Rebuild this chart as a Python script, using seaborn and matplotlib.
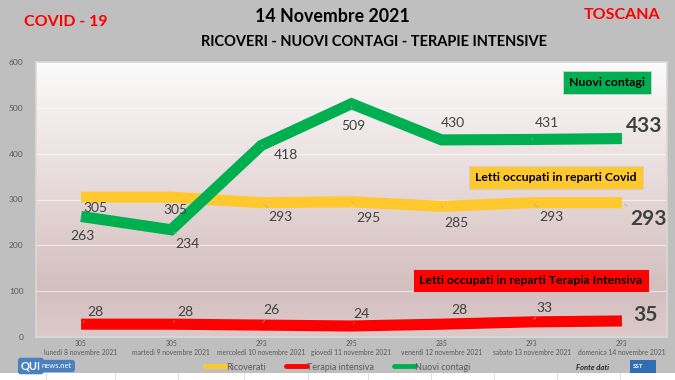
import numpy as np
import pandas as pd
import matplotlib.pyplot as plt
import seaborn as sns
from matplotlib.lines import Line2D
from matplotlib.patches import Rectangle

days = [
    "lunedì 8 novembre 2021",
    "martedì 9 novembre 2021",
    "mercoledì 10 novembre 2021",
    "giovedì 11 novembre 2021",
    "venerdì 12 novembre 2021",
    "sabato 13 novembre 2021",
    "domenica 14 novembre 2021",
]
ricoverati = [305, 305, 293, 295, 285, 293, 293]
terapia = [28, 28, 26, 24, 28, 33, 35]
contagi = [263, 234, 418, 509, 430, 431, 433]

series_names = ["Ricoverati", "Terapia intensiva", "Nuovi contagi"]
colors = {"Ricoverati": "#ffc92e", "Terapia intensiva": "#ff0000", "Nuovi contagi": "#00b050"}

# label offsets (points) for each data label
off_ric = [(10, -8), (3, -9), (14, -10), (12, -12), (11, -12), (14, -10), (19, -12)]
off_ter = [(10, 9), (10, 9), (7, 11), (7, 9), (13, 10), (9, 10), (17, 4)]
off_con = [(1, -14), (12, -10), (18, -7), (1, -16), (8, 12), (11, 12), (16, 9)]

df = pd.DataFrame({
    "idx": list(range(len(days))) * 3,
    "value": ricoverati + terapia + contagi,
    "serie": [s for s in series_names for _ in days],
})

sns.set_theme(style="white")
plt.rcParams["font.family"] = ["Lato", "DejaVu Sans"]

fig = plt.figure(figsize=(6.75, 3.8), dpi=100, facecolor="#bfbfbf")
ax = fig.add_axes([36 / 675, 1 - 337 / 380, 631 / 675, 275 / 380])

# plot-area gradient background
grad = np.array([
    [251, 251, 251], [238, 229, 229], [224, 207, 207], [212, 191, 191], [220, 202, 202],
]) / 255
ys = np.linspace(0, 1, 200)
pos = [0, 0.3, 0.6, 0.82, 1]
img = np.stack([np.interp(ys, pos, grad[:, c]) for c in range(3)], axis=1)[:, None, :]
ax.imshow(img, extent=[0, 1, 0, 1], transform=ax.transAxes, aspect="auto", zorder=0)

sns.lineplot(
    data=df, x="idx", y="value", hue="serie", hue_order=series_names,
    palette=colors, linewidth=8, ax=ax, legend=False, zorder=3,
)
for ln in ax.get_lines():
    ln.set_solid_joinstyle("miter")
    ln.set_solid_capstyle("butt")

ax.set_xlim(-0.5, 6.5)
ax.set_ylim(0, 600)
ax.set_yticks(range(0, 601, 100))
ax.set_xticks(range(len(days)))
ax.set_xticklabels([f"{r}\n{d}" for r, d in zip(ricoverati, days)], fontsize=4.9, color="#595959", linespacing=1.4)
ax.tick_params(axis="y", labelsize=6, labelcolor="#595959", pad=9, length=0)
ax.tick_params(axis="x", length=0, pad=2)
ax.set_xlabel("")
ax.set_ylabel("")
for y in range(100, 600, 100):
    ax.axhline(y, color="#ffffff", alpha=0.55, lw=0.9, zorder=1)
for sp in ax.spines.values():
    sp.set_color("#d9d9d9")
    sp.set_linewidth(1.2)

def label_series(vals, offs):
    for i, (v, o) in enumerate(zip(vals, offs)):
        last = i == len(vals) - 1
        ax.annotate(
            str(v), xy=(i, v), xytext=o, textcoords="offset points",
            ha="center", va="center", color="#404040",
            fontsize=15 if last else 10, fontweight="bold" if last else "normal",
            arrowprops=dict(arrowstyle="-", color="#a6a6a6", lw=0.5, shrinkA=6, shrinkB=2),
            zorder=5,
        )

label_series(ricoverati, off_ric)
label_series(terapia, off_ter)
label_series(contagi, off_con)

# coloured caption boxes
def caption(cx, cy, txt, fc):
    fig.text(cx / 675, 1 - cy / 380, txt, ha="center", va="center", fontsize=8.8,
             fontweight="bold", color="black", zorder=6,
             bbox=dict(boxstyle="square,pad=0.5", fc=fc, ec="#d0d0d0", lw=0.6))

caption(607, 82.5, "Nuovi contagi", "#00b050")
caption(556, 177.5, "Letti occupati in reparti Covid", "#ffc92e")
caption(531, 280.5, "Letti occupati in reparti Terapia Intensiva", "#ff0000")

# titles
fig.text(332 / 675, 1 - 17 / 380, "14 Novembre 2021", ha="center", va="center",
         fontsize=12.8, fontweight="bold", color="black")
fig.text(374 / 675, 1 - 42 / 380, "RICOVERI - NUOVI CONTAGI - TERAPIE INTENSIVE", ha="center",
         va="center", fontsize=10.5, fontweight="bold", color="black")
fig.text(66 / 675, 1 - 22 / 380, "COVID - 19", ha="center", va="center",
         fontsize=11.5, fontweight="bold", color="#ff0000")
fig.text(622 / 675, 1 - 15 / 380, "TOSCANA", ha="center", va="center",
         fontsize=11.5, fontweight="bold", color="#ff0000")

# legend
handles = [Line2D([], [], color=colors[s], lw=3.5) for s in series_names]
fig.legend(handles, series_names, loc="center", bbox_to_anchor=(338 / 675, 1 - 367 / 380),
           ncol=3, frameon=False, fontsize=6.5, handlelength=2.3, handletextpad=0.05,
           columnspacing=2.2, labelcolor="#595959")

# footer: logo placeholders and source
fig.text(41 / 675, 1 - 366 / 380, "QUI", ha="right", va="center", fontsize=8, fontweight="bold",
         color="white", bbox=dict(boxstyle="round,pad=0.25", fc="#4a7fc0", ec="none"))
fig.text(42 / 675, 1 - 366 / 380, "news.net", ha="left", va="center", fontsize=5.5,
         color="white", bbox=dict(boxstyle="round,pad=0.35", fc="#4a7fc0", ec="none"))
fig.text(593 / 675, 1 - 368 / 380, "Fonte dati", ha="center", va="center", fontsize=5.5,
         fontweight="bold", fontstyle="italic", color="#262626")
fig.patches.append(Rectangle((630 / 675, 1 - 377 / 380), 26 / 675, 17 / 380,
                             transform=fig.transFigure, fc="#2f6db5", ec="none"))
fig.text(638 / 675, 1 - 366 / 380, "SST", ha="center", va="center", fontsize=4.5,
         fontweight="bold", color="white")

# spreadsheet strip at the very bottom
fig.patches.append(Rectangle((0, 0), 1, 7 / 380, transform=fig.transFigure, fc="white", ec="none"))
for xp in [46, 115, 178, 244, 308, 368, 431, 494, 557, 620]:
    fig.lines.append(Line2D([xp / 675, xp / 675], [0, 7 / 380],
                            transform=fig.transFigure, color="#d9d9d9", lw=0.6))

fig.savefig("out.png", dpi=100, facecolor=fig.get_facecolor())
plt.close(fig)
